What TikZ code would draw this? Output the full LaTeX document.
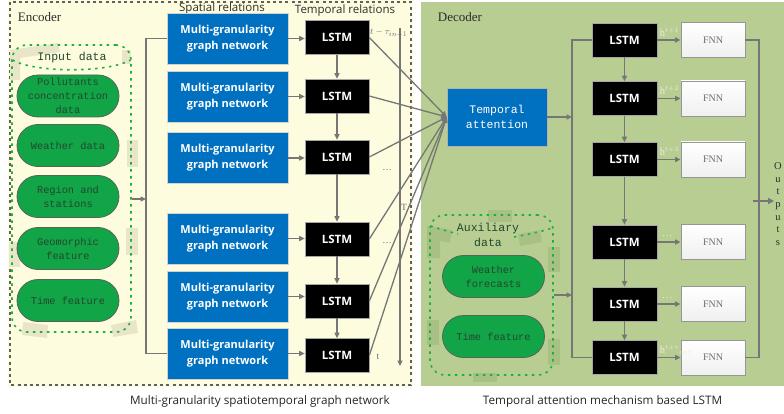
\documentclass[tikz,border=0pt]{standalone}
\usepackage{fontspec}
\setmainfont{Liberation Serif}
\newfontfamily\osans{Open Sans}
\newfontfamily\mono{Liberation Mono}
\usetikzlibrary{arrows.meta,shapes.misc}
\definecolor{encfill}{RGB}{254,252,222}
\definecolor{decfill}{RGB}{184,205,146}
\definecolor{mgblue}{RGB}{0,112,192}
\definecolor{pillgreen}{RGB}{18,165,72}
\definecolor{pillborder}{RGB}{85,100,85}
\definecolor{pilltext}{RGB}{35,70,45}
\definecolor{linegray}{RGB}{118,118,118}
\definecolor{dotgreen}{RGB}{30,178,60}
\definecolor{brushtan}{RGB}{232,229,200}
\definecolor{brushgreen}{RGB}{165,188,128}
\definecolor{fnnborder}{RGB}{150,150,150}
\definecolor{fnntext}{RGB}{110,110,110}
\definecolor{titletext}{RGB}{45,45,45}
\definecolor{hlabel}{RGB}{236,236,224}
\tikzset{
  line/.style={draw=linegray, line width=1.3pt},
  arr/.style={line, -{Triangle[length=5.5pt,width=5pt]}},
  mg/.style={draw=gray!35, line width=0.6pt, fill=mgblue, text=white, minimum width=121pt, minimum height=51pt, inner sep=0pt, align=center, font=\osans\bfseries\fontsize{11}{16}\selectfont},
  lstm/.style={draw=gray!70, line width=0.6pt, fill=black, text=white, minimum width=64pt, minimum height=34pt, inner sep=0pt, font=\osans\bfseries\fontsize{11.5}{14}\selectfont},
  pill/.style={rounded rectangle, draw=pillborder, line width=0.8pt, fill=pillgreen, text=pilltext, minimum width=102pt, minimum height=42pt, inner sep=0pt, align=center, font=\mono\fontsize{10.3}{14}\selectfont},
  fnn/.style={draw=fnnborder, line width=0.8pt, top color=white, bottom color=gray!12, minimum width=64pt, minimum height=35pt, inner sep=0pt, text=fnntext, font=\fontsize{10}{12}\selectfont},
  dotframe/.style={draw=dotgreen, line width=1.6pt, dash pattern=on 2.4pt off 4.6pt, rounded corners=15pt, inner sep=0pt},
  dotcurve/.style={draw=dotgreen, line width=1.6pt, dash pattern=on 2.4pt off 4.6pt},
  brush/.style={fill=brushtan, draw=none},
  brushg/.style={fill=brushgreen, draw=none, opacity=0.75},
  regiontitle/.style={font=\fontsize{13}{15}\selectfont, text=titletext},
  coltitle/.style={font=\osans\fontsize{11.5}{14}\selectfont, text=titletext},
  caption/.style={font=\osans\fontsize{11.7}{14}\selectfont, text=black!85},
  framelabel/.style={font=\mono\fontsize{11.5}{15}\selectfont, text=pilltext, align=center},
  smalllabel/.style={font=\fontsize{9.5}{11}\selectfont, text=gray!85!black, inner sep=0pt},
  hlab/.style={font=\fontsize{10.5}{12}\selectfont, text=hlabel, inner sep=0pt},
}
\begin{document}
\begin{tikzpicture}[x=1pt,y=-1pt]
\useasboundingbox (0,0) rectangle (784,414);
% regions
\fill[encfill] (8,0) rectangle (413,387);
\draw[draw=gray!75!black, line width=1.5pt, dash pattern=on 3pt off 3.2pt] (10,2) rectangle (411,385);
\fill[decfill] (421,2) rectangle (784,386);
% brush decorations (encoder)
\fill[brush] (10,50) -- (58,43) -- (60,52) -- (20,58) -- (20,80) -- (10,80) -- cycle;
\fill[brush] (122,50) rectangle (131,64);
\fill[brush] (127,140) rectangle (138,167);
\fill[brush] (9,242) rectangle (20,267);
\fill[brush] (126,228) rectangle (138,255);
\fill[brush] (23,322) -- (48,325) -- (47,338) -- (22,335) -- cycle;
\fill[brush] (111,325) -- (136,320) -- (138,333) -- (113,337) -- cycle;
% brush decorations (decoder)
\fill[brushg] (488,210) rectangle (512,222);
\fill[brushg] (427,226) -- (452,230) -- (450,243) -- (440,241) -- (440,258) -- (427,258) -- cycle;
\fill[brushg] (518,234) -- (540,230) -- (542,242) -- (520,246) -- cycle;
\fill[brushg] (548,247) rectangle (560,272);
\fill[brushg] (427,320) rectangle (439,345);
\fill[brushg] (548,339) rectangle (560,365);
\fill[brushg] (473,373) rectangle (497,382);
% titles
\node[regiontitle] (enct) at (39.5,17) {Encoder};
\node[regiontitle] (dect) at (460,17) {Decoder};
\node[coltitle] (spt) at (222,8.5) {Spatial relations};
\node[coltitle] (tpt) at (345,11) {Temporal relations};
% input data frame
\node[dotframe, minimum width=119pt, minimum height=287pt] (inp) at (71.5,188.5) {};
\draw[dotcurve] (12.5,60) .. controls (35,73) and (108,73) .. (130.5,60);
\node[framelabel] (inpt) at (72,58) {Input data};
\node[pill] (p1) at (68,96) {Pollutants\\concentration\\data};
\node[pill] (p2) at (68,145.5) {Weather data};
\node[pill] (p3) at (68,196.5) {Region and\\stations};
\node[pill] (p4) at (68,248.5) {Geomorphic\\feature};
\node[pill] (p5) at (68,300.5) {Time feature};
% multi-granularity graph networks
\node[mg] (g1) at (227.5,38.5) {Multi-granularity\\graph network};
\node[mg] (g2) at (227.5,96.5) {Multi-granularity\\graph network};
\node[mg] (g3) at (227.5,158) {Multi-granularity\\graph network};
\node[mg] (g4) at (227.5,238.5) {Multi-granularity\\graph network};
\node[mg] (g5) at (227.5,296.5) {Multi-granularity\\graph network};
\node[mg] (g6) at (227.5,353.5) {Multi-granularity\\graph network};
% encoder LSTMs
\node[lstm] (l1) at (337,37.5) {LSTM};
\node[lstm] (l2) at (337,96) {LSTM};
\node[lstm] (l3) at (337,157) {LSTM};
\node[lstm] (l4) at (337,239) {LSTM};
\node[lstm] (l5) at (337,301) {LSTM};
\node[lstm] (l6) at (337,355.5) {LSTM};
% bracket and input arrow
\coordinate (ebus) at (146,200);
\coordinate (inY) at (0,199);
\draw[line] (g1.west) -| (ebus) |- (g6.west);
\draw[arr] (inp.east |- inY) -- (ebus |- inY);
\foreach \i in {1,...,6} { \draw[arr] (g\i.east) -- (l\i.west |- g\i.east); }
\draw[arr] (l1.south) -- (l2.north);
\draw[arr] (l2.south) -- (l3.north);
\draw[arr] (l3.south) -- (l4.north);
\draw[arr] (l4.south) -- (l5.north);
\draw[arr] (l5.south) -- (l6.north);
% time axis
\coordinate (ttop) at (400,28);
\coordinate (tbot) at (400,366);
\draw[arr] (ttop) -- (tbot);
\node[smalllabel, anchor=west] (tl1) at (370,33) {$t-\tau_{in+1}$};
\node[smalllabel] (dots1) at (387,170) {\ldots};
\node[smalllabel] (dots2) at (387,243) {\ldots};
\node[smalllabel] (tl6) at (378,357) {t};
\node[smalllabel] (tT) at (404,207) {T};
% temporal attention
\node[draw=gray!60, line width=0.6pt, fill=mgblue, text=white, minimum width=100pt, minimum height=58pt, inner sep=0pt, align=center, font=\mono\fontsize{11.5}{15}\selectfont] (att) at (497,117) {Temporal\\attention};
\foreach \i in {1,...,6} { \draw[arr] (l\i.east) -- (att.west); }
% auxiliary data frame
\node[dotframe, minimum width=123pt, minimum height=160pt] (aux) at (491.5,295) {};
\draw[dotcurve] (430.5,226) .. controls (440,229) and (450,232) .. (458,234);
\draw[dotcurve] (514,237) .. controls (525,235) and (540,232) .. (552.5,228);
\node[framelabel] (auxt) at (488,234.5) {Auxiliary\\data};
\node[pill] (a1) at (493.5,276.5) {Weather\\forecasts};
\node[pill] (a2) at (493.5,336.5) {Time feature};
% decoder LSTMs and FNNs
\node[lstm, minimum width=65pt] (d1) at (624.5,40) {LSTM};
\node[lstm, minimum width=65pt] (d2) at (624.5,98.5) {LSTM};
\node[lstm, minimum width=65pt] (d3) at (624.5,159.5) {LSTM};
\node[lstm, minimum width=65pt] (d4) at (624.5,242) {LSTM};
\node[lstm, minimum width=65pt] (d5) at (624.5,304) {LSTM};
\node[lstm, minimum width=65pt] (d6) at (624.5,357.5) {LSTM};
\node[fnn] (f1) at (713,40) {FNN};
\node[fnn] (f2) at (713,98.5) {FNN};
\node[fnn] (f3) at (713,159.5) {FNN};
\node[fnn] (f4) at (713,242) {FNN};
\node[fnn] (f5) at (713,304) {FNN};
\node[fnn] (f6) at (713,357.5) {FNN};
\draw[arr] (d1.south) -- (d2.north);
\draw[arr] (d2.south) -- (d3.north);
\draw[arr] (d3.south) -- (d4.north);
\draw[arr] (d4.south) -- (d5.north);
\draw[arr] (d5.south) -- (d6.north);
\draw[arr] (d1) -- node[hlab, pos=0, anchor=south west, xshift=2pt, yshift=3pt] {h$^{t+1}$} (f1);
\draw[arr] (d2) -- node[hlab, pos=0, anchor=south west, xshift=2pt, yshift=3pt] {h$^{t+2}$} (f2);
\draw[arr] (d3) -- node[hlab, pos=0, anchor=south west, xshift=2pt, yshift=3pt] {h$^{t+3}$} (f3);
\draw[arr] (d4) -- node[hlab, pos=0, anchor=south west, xshift=4pt, yshift=5pt] {\ldots} (f4);
\draw[arr] (d5) -- node[hlab, pos=0, anchor=south west, xshift=4pt, yshift=5pt] {\ldots} (f5);
\draw[arr] (d6) -- node[hlab, pos=0, anchor=south west, xshift=2pt, yshift=2pt] {h$^{t+\tau}{}_{out}$} (f6);
% decoder bus
\coordinate (dbus) at (572,200);
\draw[line] (d1.west) -| (dbus) |- (d6.west);
\draw[arr] (att.east) -- (att.east -| dbus);
\draw[arr] (aux.east) -- (aux.east -| dbus);
% outputs
\coordinate (obus) at (759,200);
\draw[line] (f1.east) -| (obus) |- (f6.east);
\node[align=center, inner sep=0pt, font=\fontsize{10.5}{12.7}\selectfont, text=titletext] (out) at (778,204) {O\\u\\t\\p\\u\\t\\s};
\coordinate (ostart) at (753,201);
\draw[line, line width=1.8pt, -{Triangle[length=6pt,width=6pt]}] (ostart) -- (out.west |- ostart);
% captions
\node[caption] (cap1) at (260,401) {Multi-granularity spatiotemporal graph network};
\node[caption] (cap2) at (602.5,401) {Temporal attention mechanism based LSTM};
\end{tikzpicture}
\end{document}
